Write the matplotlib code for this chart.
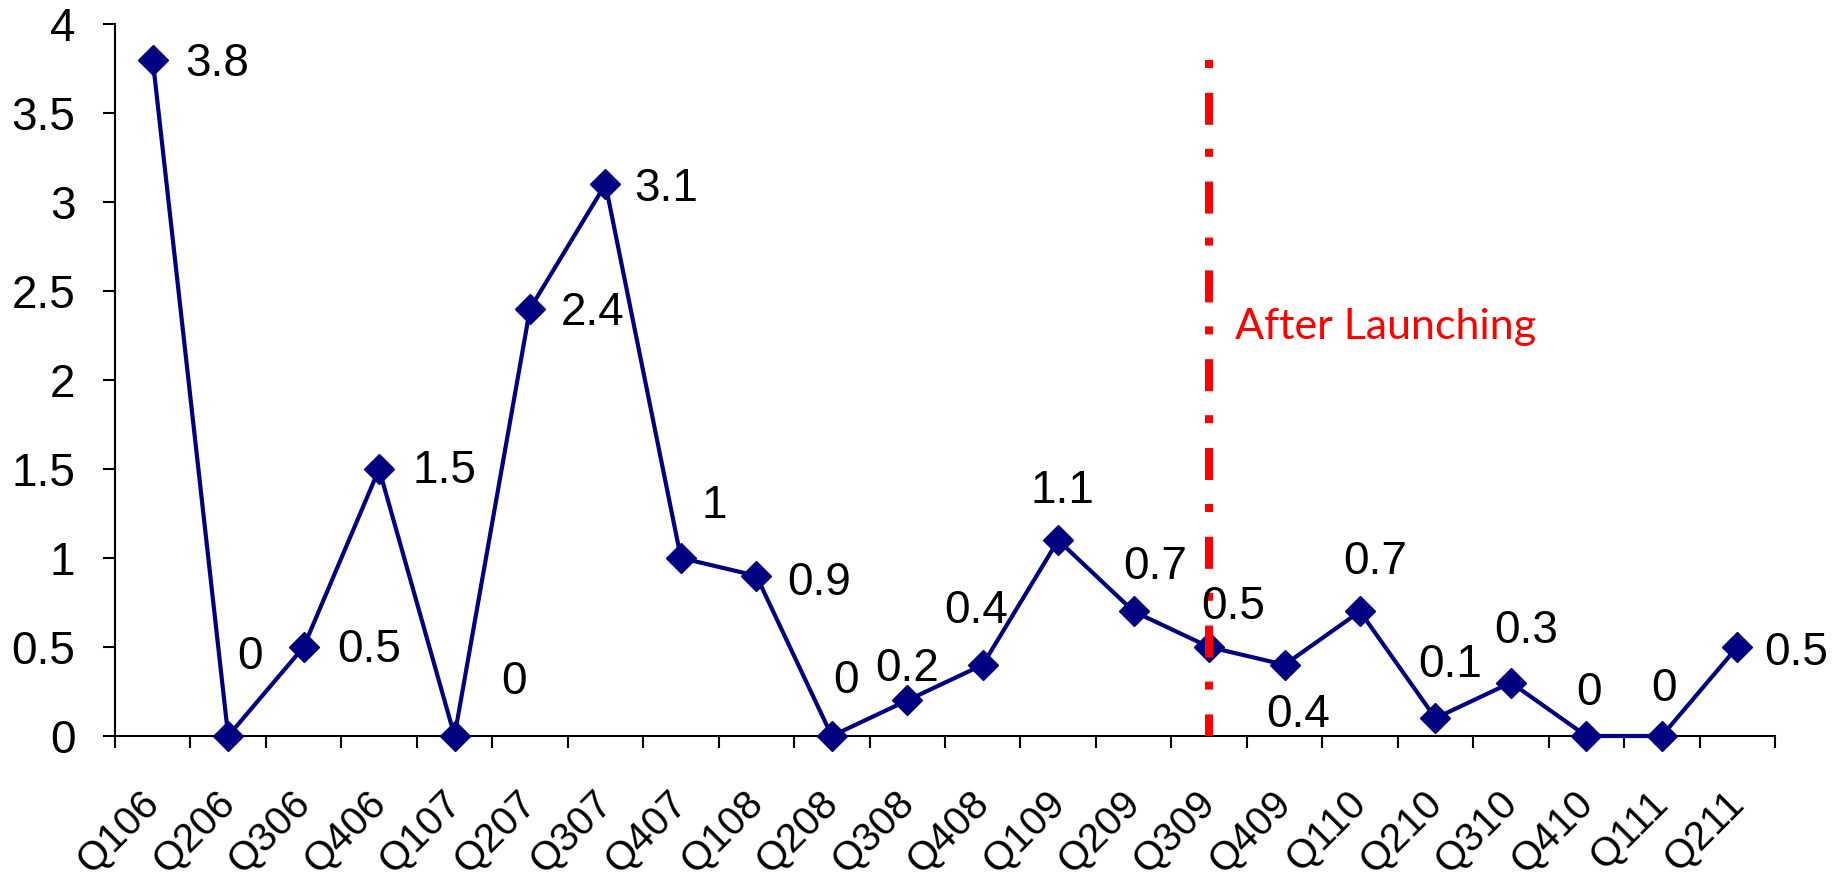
import numpy as np
import matplotlib
matplotlib.use('Agg')
import matplotlib.pyplot as plt

quarters = ['Q106', 'Q206', 'Q306', 'Q406', 'Q107', 'Q207', 'Q307', 'Q407',
            'Q108', 'Q208', 'Q308', 'Q408', 'Q109', 'Q209', 'Q309', 'Q409',
            'Q110', 'Q210', 'Q310', 'Q410', 'Q111', 'Q211']
values = [3.8, 0, 0.5, 1.5, 0, 2.4, 3.1, 1, 0.9, 0, 0.2, 0.4,
          1.1, 0.7, 0.5, 0.4, 0.7, 0.1, 0.3, 0, 0, 0.5]

launch_quarter = 'Q309'
launch_top = 3.8
launch_text = 'After Launching'
launch_text_y = 2.23

yticks = [0, 0.5, 1, 1.5, 2, 2.5, 3, 3.5, 4]

# where each value label sits relative to its marker (pixels, up is +)
label_offsets = [(64, -4), (22, 79), (66, -3), (65, -2), (59, 54), (63, -4),
                 (61, -5), (33, 52), (63, -7), (14, 55), (0, 31), (-7, 54),
                 (4, 49), (22, 44), (24, 40), (14, -50), (15, 49), (15, 53),
                 (15, 52), (3, 43), (2, 47), (59, -6)]

navy = '#000080'
plt.rcParams['font.family'] = ['Liberation Sans', 'DejaVu Sans']

fig = plt.figure(figsize=(18.46, 8.85), dpi=100)
ax = fig.add_axes([115 / 1846, 149 / 885, 1660 / 1846, 712 / 885])

x = np.arange(len(quarters))
ax.plot(x, values, color=navy, lw=3, marker='D', ms=15.5, mec=navy, mew=1,
        clip_on=False, zorder=3)

for xi, v, (dx, dy) in zip(x, values, label_offsets):
    ax.annotate('%g' % v, (xi, v), xytext=(dx, dy), textcoords='offset pixels',
                ha='center', va='center', fontsize=33, color='black', zorder=5)

li = quarters.index(launch_quarter)
ax.plot([li, li], [launch_top, 0], color='red', lw=5.76,
        linestyle=(0, (1, 3.1, 4, 3)), dash_capstyle='butt', zorder=4,
        clip_on=False)
ax.annotate(launch_text, (li, launch_text_y), xytext=(26, 0),
            textcoords='offset pixels', ha='left', va='baseline',
            color='red', fontsize=31, family=['Lato', 'DejaVu Sans'])

ax.set_xlim(-0.5, len(quarters) - 0.5)
ax.set_ylim(0, 4)

ax.set_xticks(np.arange(-0.5, len(quarters), 1))
ax.set_xticklabels([])
ax.set_xticks(x, minor=True)
ax.set_xticklabels(quarters, minor=True, rotation=45, ha='right', va='center',
                   rotation_mode='anchor', fontsize=29)
ax.tick_params(axis='x', which='major', direction='out', length=8.6, width=1.5)
ax.tick_params(axis='x', which='minor', length=0, pad=44)

ax.set_yticks(yticks)
ax.set_yticklabels(['%g' % t for t in yticks], fontsize=33)
ax.tick_params(axis='y', direction='out', length=8.6, width=1.5, pad=20)

for s in ['top', 'right']:
    ax.spines[s].set_visible(False)
for s in ['left', 'bottom']:
    ax.spines[s].set_linewidth(1.5)
    ax.spines[s].set_color('black')

fig.savefig('out.png', dpi=100)
